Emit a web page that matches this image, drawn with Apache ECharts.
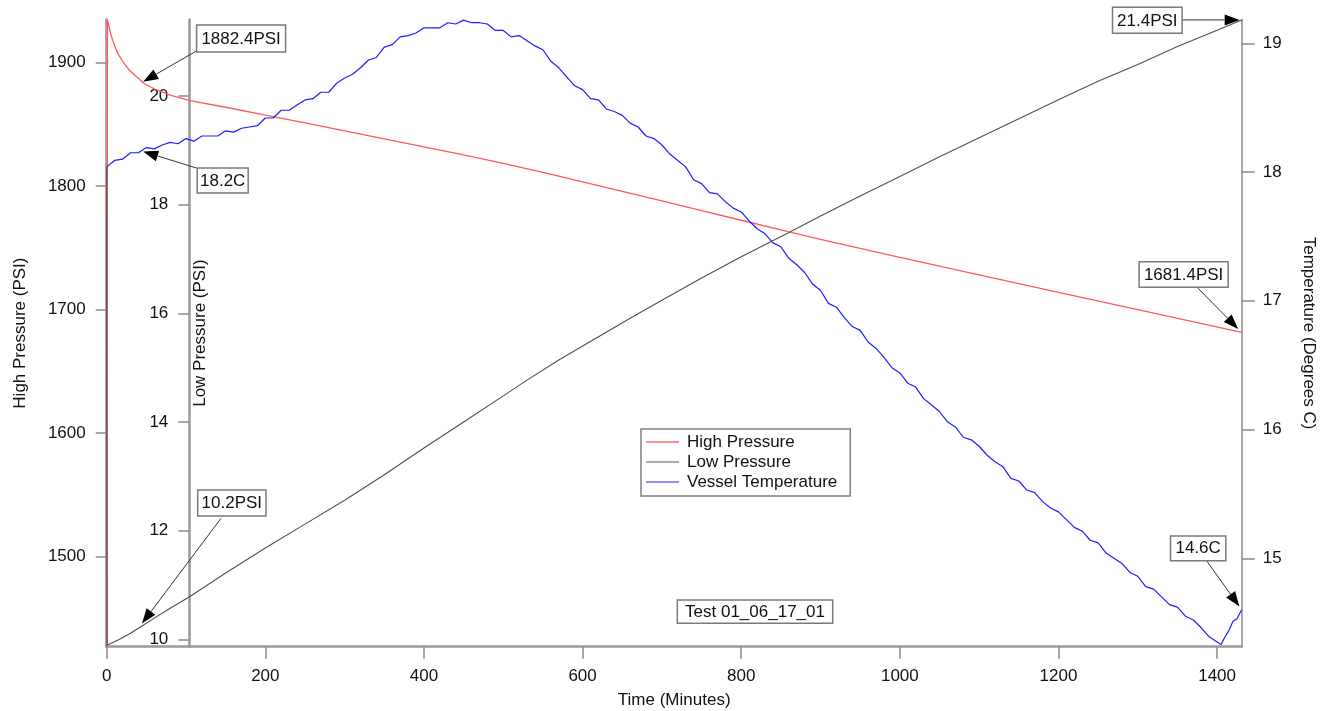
<!DOCTYPE html>
<html>
<head>
<meta charset="utf-8">
<script src="https://cdn.jsdelivr.net/npm/echarts@6.0.0/dist/echarts.min.js"></script>
<style>
  html, body { margin: 0; padding: 0; background: #fff; }
  #chart { width: 1325px; height: 711px; }
</style>
</head>
<body>
<div id="chart"></div>
<script>
// ---------------- DATA ----------------
const seriesNames = ['High Pressure', 'Low Pressure', 'Vessel Temperature'];

// High pressure (PSI) vs time (minutes)
const hpTime = [0, 0.5, 1, 3, 5, 8, 12, 16, 21, 28, 38, 48, 63, 80, 105, 155, 200, 250, 300, 350, 400, 450, 500, 550, 600, 650, 700, 750, 800, 859, 900, 950, 1000, 1100, 1200, 1300, 1431];
const hpVals = [1427, 1640, 1934, 1929, 1923, 1917, 1910, 1905, 1900, 1894, 1888, 1882.4, 1877.6, 1873.5, 1869, 1863, 1857.3, 1850.9, 1844.5, 1838.1, 1831.6, 1825.0, 1818.2, 1810.9, 1803.3, 1795.6, 1787.8, 1780.0, 1772.2, 1763.0, 1756.8, 1749.4, 1742.2, 1728.0, 1713.9, 1699.8, 1681.4];

// Low pressure (PSI) vs time (minutes)
const lpTime = [0, 0, 0.5, 15, 30, 45, 60, 80, 104, 150, 200, 250, 300, 350, 400, 450, 500, 530, 570, 613, 660, 700, 750, 800, 859, 900, 950, 1000, 1050, 1100, 1150, 1200, 1250, 1300, 1350, 1400, 1431];
const lpVals = [18.7, 14.6, 9.89, 9.99, 10.11, 10.25, 10.39, 10.57, 10.78, 11.22, 11.68, 12.12, 12.56, 13.03, 13.52, 14.00, 14.48, 14.77, 15.14, 15.51, 15.91, 16.24, 16.65, 17.04, 17.48, 17.79, 18.16, 18.52, 18.88, 19.23, 19.58, 19.93, 20.27, 20.58, 20.91, 21.21, 21.40];

// Vessel temperature (deg C) vs time (minutes)
const tempTime = [0, 10, 20, 30, 40, 50, 60, 70, 80, 90, 100, 110, 120, 130, 140, 150, 160, 170, 180, 190,
  200, 210, 220, 230, 240, 250, 260, 270, 280, 290, 300, 310, 320, 330, 340, 350, 360, 370, 380, 390,
  400, 410, 420, 430, 440, 450, 460, 470, 480, 490, 500, 510, 520, 530, 540, 550, 560, 570, 580, 590,
  600, 610, 620, 630, 640, 650, 660, 670, 680, 690, 700, 710, 720, 730, 740, 750, 760, 770, 780, 790,
  800, 810, 820, 830, 840, 850, 860, 870, 880, 890, 900, 910, 920, 930, 940, 950, 960, 970, 980, 990,
  1000, 1010, 1020, 1030, 1040, 1050, 1060, 1070, 1080, 1090, 1100, 1110, 1120, 1130, 1140, 1150, 1160, 1170, 1180, 1190,
  1200, 1210, 1220, 1230, 1240, 1250, 1260, 1270, 1280, 1290, 1300, 1310, 1320, 1330, 1340, 1350, 1360, 1370, 1380, 1390,
  1400, 1405, 1410, 1415, 1420, 1425, 1431];
const tempVals = [18.04, 18.09, 18.10, 18.15, 18.15, 18.19, 18.18, 18.21, 18.23, 18.22, 18.26, 18.24, 18.28, 18.28, 18.28, 18.32, 18.31, 18.34, 18.35, 18.36,
  18.42, 18.42, 18.48, 18.48, 18.52, 18.56, 18.57, 18.62, 18.62, 18.69, 18.73, 18.76, 18.81, 18.87, 18.89, 18.97, 18.99, 19.05, 19.06, 19.08,
  19.12, 19.12, 19.12, 19.16, 19.15, 19.18, 19.16, 19.16, 19.15, 19.10, 19.10, 19.05, 19.06, 19.02, 18.98, 18.95, 18.86, 18.81, 18.74, 18.67,
  18.64, 18.57, 18.56, 18.49, 18.47, 18.44, 18.38, 18.35, 18.28, 18.26, 18.21, 18.14, 18.09, 18.04, 17.94, 17.91, 17.84, 17.83, 17.77, 17.72,
  17.69, 17.62, 17.56, 17.52, 17.45, 17.42, 17.33, 17.28, 17.22, 17.13, 17.08, 16.98, 16.95, 16.87, 16.80, 16.77, 16.68, 16.63, 16.56, 16.48,
  16.44, 16.36, 16.33, 16.24, 16.19, 16.14, 16.06, 16.02, 15.94, 15.92, 15.87, 15.80, 15.75, 15.71, 15.62, 15.60, 15.53, 15.51, 15.44, 15.39,
  15.36, 15.30, 15.24, 15.21, 15.14, 15.12, 15.04, 15.00, 14.96, 14.89, 14.86, 14.78, 14.76, 14.70, 14.64, 14.62, 14.55, 14.52, 14.46, 14.39,
  14.35, 14.33, 14.39, 14.44, 14.51, 14.53, 14.60];

// Tick labels
const timeTicks = [0, 200, 400, 600, 800, 1000, 1200, 1400];
const hpTicks = [1500, 1600, 1700, 1800, 1900];
const lpTicks = [10, 12, 14, 16, 18, 20];
const tempTicks = [15, 16, 17, 18, 19];

// Axis ranges
const timeRange = [0, 1431];
const hpRange = [1427.2, 1934.6];
const lpRange = [9.864, 21.408];
const tempRange = [14.313, 19.185];

// Axis titles
const axisTitles = { time: 'Time (Minutes)', hp: 'High Pressure (PSI)', lp: 'Low Pressure (PSI)', temp: 'Temperature (Degrees C)' };

// Annotations: text and the data point they point at (axis: 0=HP,1=LP,2=Temp)
const annoTexts = ['1882.4PSI', '18.2C', '10.2PSI', '21.4PSI', '1681.4PSI', '14.6C'];
const annoAxis = [0, 2, 1, 1, 0, 2];
const annoTime = [46, 46, 44.5, 1431, 1431, 1431];
const annoValue = [1884.3, 18.16, 10.29, 21.4, 1681.4, 14.6];
const titleText = 'Test 01_06_17_01';

// ---------------- LAYOUT / STYLE ----------------
const FONT = "'Liberation Sans', Arial, 'DejaVu Sans', sans-serif";
const FS = 17;
const GRID = { left: 106.7, right: 83.3, top: 19.5, bottom: 64.3 };
const LP_OFFSET = 82.6;
// box offset from anchor (x,y,w,h) and arrow start offset from anchor, gap at tip
const annoLayout = [
  { bx: 53.4, by: -56.7, w: 89, h: 27, sx: 55, sy: -31.7, gap: 0 },
  { bx: 54, by: 16.6, w: 51, h: 25, sx: 53.4, sy: 16.6, gap: 0 },
  { bx: 55.7, by: -133.5, w: 68.3, h: 26, sx: 79, sy: -105.2, gap: 0 },
  { bx: -129.2, by: -12.6, w: 69.6, h: 26, sx: -59.6, sy: 0, gap: 2 },
  { bx: -102.6, by: -70.8, w: 89, h: 25.6, sx: -44.6, sy: -45.2, gap: 5 },
  { bx: -71.2, by: -73.8, w: 55.3, h: 24.7, sx: -35.2, sy: -49.1, gap: 4 }
];

const zip = (a, b) => a.map((v, i) => [v, b[i]]);
const plain = (v) => String(v);

const chart = echarts.init(document.getElementById('chart'), null, { renderer: 'canvas' });

const labelStyle = { color: '#111', fontSize: FS, fontFamily: FONT };

const option = {
  animation: false,
  backgroundColor: '#fff',
  textStyle: { fontFamily: FONT },
  grid: { left: GRID.left, right: GRID.right, top: GRID.top, bottom: GRID.bottom, outerBoundsMode: 'none', containLabel: false },
  legend: {
    orient: 'vertical',
    left: 641, top: 429,
    data: seriesNames,
    icon: 'rect',
    itemWidth: 33, itemHeight: 1.5, itemGap: 0,
    padding: [3, 13, 4, 5],
    borderColor: '#808080', borderWidth: 1.5,
    backgroundColor: '#fff',
    textStyle: { color: '#111', fontSize: FS, fontFamily: FONT, lineHeight: 20, padding: [0, 0, 0, 3] },
    selectedMode: false
  },
  xAxis: {
    type: 'value',
    min: timeRange[0], max: timeRange[1],
    name: axisTitles.time, nameLocation: 'middle', nameGap: 45,
    nameTextStyle: labelStyle,
    axisLine: { show: true, onZero: false, lineStyle: { color: '#9a9a9a', width: 2.5 } },
    axisTick: { show: true, length: 12, customValues: timeTicks, lineStyle: { color: '#8a8a8a', width: 1.5 } },
    axisLabel: { customValues: timeTicks, margin: 21, formatter: plain, ...labelStyle },
    splitLine: { show: false }
  },
  yAxis: [
    {
      type: 'value', position: 'left', offset: 0,
      min: hpRange[0], max: hpRange[1],
      name: axisTitles.hp, nameLocation: 'middle', nameGap: 78,
      nameTextStyle: labelStyle,
      axisLine: { show: true, onZero: false, lineStyle: { color: '#a8a8a8', width: 3 } },
      axisTick: { show: true, length: 11, customValues: hpTicks, lineStyle: { color: '#8a8a8a', width: 1.5 } },
      axisLabel: { customValues: hpTicks, margin: 21, formatter: plain, ...labelStyle },
      splitLine: { show: false }
    },
    {
      type: 'value', position: 'left', offset: -LP_OFFSET,
      min: lpRange[0], max: lpRange[1],
      axisLine: { show: true, onZero: false, lineStyle: { color: '#9a9a9a', width: 2.5 } },
      axisTick: { show: true, length: 11, customValues: lpTicks, lineStyle: { color: '#8a8a8a', width: 1.5 } },
      axisLabel: { customValues: lpTicks, margin: 21, formatter: plain, ...labelStyle },
      splitLine: { show: false }
    },
    {
      type: 'value', position: 'right', offset: 0,
      min: tempRange[0], max: tempRange[1],
      name: axisTitles.temp, nameLocation: 'middle', nameGap: 58, nameRotate: -90,
      nameTextStyle: labelStyle,
      axisLine: { show: true, onZero: false, lineStyle: { color: '#8a8a8a', width: 1.5 } },
      axisTick: { show: true, length: 13, customValues: tempTicks, lineStyle: { color: '#8a8a8a', width: 1.5 } },
      axisLabel: { customValues: tempTicks, margin: 21, formatter: plain, ...labelStyle },
      splitLine: { show: false }
    }
  ],
  series: [
    {
      name: seriesNames[0], type: 'line', xAxisIndex: 0, yAxisIndex: 0,
      data: zip(hpTime, hpVals), symbol: 'none', showSymbol: false,
      lineStyle: { color: '#ff5a5a', width: 1.3 }, itemStyle: { color: '#ff6a6a' }, z: 2
    },
    {
      name: seriesNames[1], type: 'line', xAxisIndex: 0, yAxisIndex: 1,
      data: zip(lpTime, lpVals), symbol: 'none', showSymbol: false,
      lineStyle: { color: '#505050', width: 1.1 }, itemStyle: { color: '#909090' }, z: 3
    },
    {
      name: seriesNames[2], type: 'line', xAxisIndex: 0, yAxisIndex: 2,
      data: zip(tempTime, tempVals), symbol: 'none', showSymbol: false,
      lineStyle: { color: '#1e1eff', width: 1.2 }, itemStyle: { color: '#6a6aff' }, z: 4
    }
  ]
};

chart.setOption(option);

// ---------------- ANNOTATIONS ----------------
function buildGraphics() {
  const els = [];
  const headLen = 15, headHalf = 5.5;
  annoTexts.forEach((txt, i) => {
    const L = annoLayout[i];
    const p = chart.convertToPixel({ xAxisIndex: 0, yAxisIndex: annoAxis[i] }, [annoTime[i], annoValue[i]]);
    const sx = p[0] + L.sx, sy = p[1] + L.sy;
    let dx = p[0] - sx, dy = p[1] - sy;
    const len = Math.hypot(dx, dy);
    const ux = dx / len, uy = dy / len;
    const tx = p[0] - ux * L.gap, ty = p[1] - uy * L.gap;
    const bxp = tx - ux * headLen, byp = ty - uy * headLen;
    const px = -uy, py = ux;
    els.push({
      type: 'line', z: 100, silent: true,
      shape: { x1: sx, y1: sy, x2: bxp, y2: byp },
      style: { stroke: '#333', lineWidth: 1 }
    });
    els.push({
      type: 'polygon', z: 100, silent: true,
      shape: { points: [[tx, ty], [bxp + px * headHalf, byp + py * headHalf], [bxp - px * headHalf, byp - py * headHalf]] },
      style: { fill: '#000' }
    });
    const rx = p[0] + L.bx, ry = p[1] + L.by;
    els.push({
      type: 'rect', z: 101, silent: true,
      shape: { x: rx, y: ry, width: L.w, height: L.h },
      style: { fill: '#fff', stroke: '#7a7a7a', lineWidth: 1.5 }
    });
    els.push({
      type: 'text', z: 102, silent: true,
      style: { text: txt, x: rx + L.w / 2, y: ry + L.h / 2 + 0.5, align: 'center', verticalAlign: 'middle',
               font: FS + 'px ' + FONT, fill: '#111' }
    });
  });
  // Low pressure axis title, placed just inside (right of) its free axis
  const plotH = 711 - GRID.top - GRID.bottom;
  els.push({
    type: 'text', z: 50, silent: true,
    x: GRID.left + LP_OFFSET + 3, y: GRID.top + plotH / 2,
    rotation: Math.PI / 2,
    style: { text: axisTitles.lp, x: 0, y: 0, align: 'center', verticalAlign: 'top',
             font: FS + 'px ' + FONT, fill: '#111' }
  });
  // Title text box
  els.push({
    type: 'rect', z: 101, silent: true,
    shape: { x: 677.3, y: 600, width: 155.4, height: 23.3 },
    style: { fill: '#fff', stroke: '#7a7a7a', lineWidth: 1.5 }
  });
  els.push({
    type: 'text', z: 102, silent: true,
    style: { text: titleText, x: 677.3 + 155.4 / 2, y: 600 + 23.3 / 2 + 0.5, align: 'center', verticalAlign: 'middle',
             font: FS + 'px ' + FONT, fill: '#111' }
  });
  chart.setOption({ graphic: els });
}
buildGraphics();
</script>
</body>
</html>
